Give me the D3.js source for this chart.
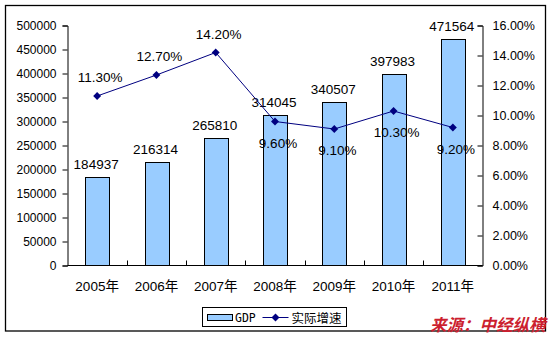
<!DOCTYPE html>
<html><head><meta charset="utf-8">
<script src="https://cdn.jsdelivr.net/npm/d3@7"></script>
<style>
html,body{margin:0;padding:0;background:#fff;}
svg{display:block;}
text{font-family:"Liberation Sans",Arial,"Noto Sans CJK SC",sans-serif;fill:#000;}
</style></head>
<body>
<svg id="chart" width="552" height="338"></svg>
<script>
const years = ["2005年","2006年","2007年","2008年","2009年","2010年","2011年"];
const gdp = [184937, 216314, 265810, 314045, 340507, 397983, 471564];
const growth = [11.3, 12.7, 14.2, 9.6, 9.1, 10.3, 9.2];
const gdpTicks = [0,50000,100000,150000,200000,250000,300000,350000,400000,450000,500000];
const rateTicks = [0,2,4,6,8,10,12,14,16];
const legendLabels = ["GDP","实际增速"];
const sourceText = "来源：中经纵横";

const svg = d3.select("#chart");
const L = 67.5, R = 482.5, T = 25.5, B = 265.5;

// outer border
svg.append("rect").attr("x",5.5).attr("y",5.5).attr("width",540).attr("height",325.5)
  .attr("fill","none").attr("stroke","#000").attr("stroke-width",1.3);

const x = d3.scaleBand().domain(years).range([L,R]).paddingInner(0.6).paddingOuter(0.3);
const step = x.step();
const y = d3.scaleLinear().domain([0,500000]).range([B,T]);
const y2 = d3.scaleLinear().domain([0,16]).range([B,T]);

// bars
svg.selectAll("rect.bar").data(gdp).enter().append("rect").attr("class","bar")
  .attr("x",(d,i)=>Math.round(x(years[i]))+0.5)
  .attr("y",d=>Math.round(y(d))+0.5)
  .attr("width",Math.round(x.bandwidth()))
  .attr("height",d=>B-Math.round(y(d))-0.5)
  .attr("fill","#99ccff").attr("stroke","#000").attr("stroke-width",1);

// left axis
const gl = svg.append("g").attr("transform",`translate(${L},0)`)
  .call(d3.axisLeft(y).tickValues(gdpTicks).tickSize(5).tickPadding(6).tickFormat(d3.format("d")));
gl.select(".domain").attr("stroke","#000");
gl.selectAll("text").style("font-size","12px").attr("fill","#000");
gl.selectAll("line").attr("stroke","#000");

// right axis (ticks pointing inward)
const gr = svg.append("g").attr("transform",`translate(${R},0)`)
  .call(d3.axisRight(y2).tickValues(rateTicks).tickSize(-5).tickPadding(10).tickFormat(d=>d.toFixed(2)+"%"));
gr.select(".domain").attr("stroke","#000");
gr.selectAll("text").style("font-size","12.5px").attr("fill","#000");
gr.selectAll("line").attr("stroke","#000");

// bottom axis
svg.append("line").attr("x1",L).attr("x2",R).attr("y1",B).attr("y2",B).attr("stroke","#000");
years.forEach((yr,i)=>{
  if(i>0){
    const bx = Math.round(L + step*i)+0.5;
    svg.append("line").attr("x1",bx).attr("x2",bx).attr("y1",B).attr("y2",B-5).attr("stroke","#000");
  }
});
svg.selectAll("text.xl").data(years).enter().append("text").attr("class","xl")
  .attr("x",d=>x(d)+x.bandwidth()/2).attr("y",291)
  .attr("text-anchor","middle").style("font-size","13.5px").text(d=>d);

// bar labels
svg.selectAll("text.bl").data(gdp).enter().append("text").attr("class","bl")
  .attr("x",(d,i)=>x(years[i])+x.bandwidth()/2-1).attr("y",d=>y(d)-8)
  .attr("text-anchor","middle").style("font-size","13.5px").text(d=>d);

// line
const cx = i => x(years[i])+x.bandwidth()/2;
const line = d3.line().x((d,i)=>cx(i)).y(d=>y2(d));
svg.append("path").datum(growth).attr("d",line).attr("fill","none").attr("stroke","#000080").attr("stroke-width",1);
const diamond = d3.symbol().type(d3.symbolDiamond2).size(40);
svg.selectAll("path.mk").data(growth).enter().append("path").attr("class","mk")
  .attr("transform",(d,i)=>`translate(${cx(i)},${y2(d)})`).attr("d",diamond).attr("fill","#000080");

// line labels
svg.selectAll("text.ll").data(growth).enter().append("text").attr("class","ll")
  .attr("x",(d,i)=>cx(i)+3).attr("y",(d,i)=> i<3 ? y2(d)-14 : y2(d)+26)
  .attr("text-anchor","middle").style("font-size","13.5px").text(d=>d.toFixed(2)+"%");

// legend
svg.append("rect").attr("x",202.5).attr("y",307.5).attr("width",144).attr("height",19)
  .attr("fill","#fff").attr("stroke","#000");
svg.append("rect").attr("x",207.5).attr("y",314.5).attr("width",25).attr("height",6)
  .attr("fill","#99ccff").attr("stroke","#000");
svg.append("text").attr("x",235).attr("y",322).style("font-family","'DejaVu Sans Mono',monospace")
  .style("font-size","11.5px").text(legendLabels[0]);
svg.append("line").attr("x1",262.5).attr("x2",288.5).attr("y1",317.5).attr("y2",317.5).attr("stroke","#000080");
svg.append("path").attr("transform","translate(275.5,317.5)").attr("d",diamond).attr("fill","#000080");
svg.append("text").attr("x",291.5).attr("y",322.5).style("font-family","'Noto Sans CJK SC',sans-serif")
  .style("font-size","12.5px").text(legendLabels[1]);

// source
svg.append("text").attr("x",430).attr("y",331).style("font-family","'Noto Sans CJK SC',sans-serif")
  .style("font-size","16.5px").style("font-weight","bold").style("font-style","italic")
  .attr("fill","#cc1f2f").style("fill","#cc1f2f").text(sourceText);
</script>
</body></html>
